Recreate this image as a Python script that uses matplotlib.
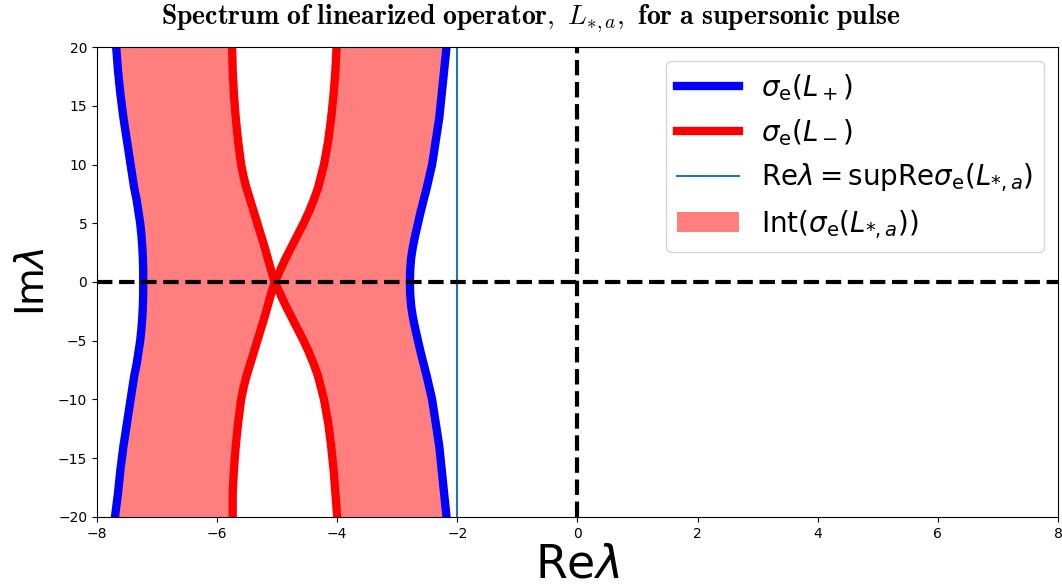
import matplotlib
matplotlib.use("Agg")
import matplotlib.pyplot as plt

plt.rcParams['mathtext.fontset'] = 'dejavusans'

# Imaginary-part grid (shared by all curves)
im_vals = [-20, -18, -16, -14, -12, -10, -9, -8, -7, -6, -5, -4, -3, -2, -1,
           0, 1, 2, 3, 4, 5, 6, 7, 8, 9, 10, 12, 14, 16, 18, 20]

# sigma_e(L_+): left and right branches (real parts)
plus_left = [-7.70, -7.65, -7.61, -7.56, -7.50, -7.44, -7.41, -7.38, -7.34, -7.31, -7.28, -7.26, -7.245, -7.235, -7.23,
             -7.23, -7.23, -7.235, -7.245, -7.26, -7.28, -7.31, -7.34, -7.38, -7.41, -7.44, -7.50, -7.56, -7.61, -7.65, -7.68]
plus_right = [-2.18, -2.22, -2.26, -2.30, -2.36, -2.42, -2.465, -2.51, -2.56, -2.61, -2.655, -2.70, -2.74, -2.77, -2.785,
              -2.79, -2.785, -2.77, -2.74, -2.70, -2.655, -2.61, -2.56, -2.51, -2.465, -2.42, -2.36, -2.30, -2.26, -2.22, -2.18]

# sigma_e(L_-): left and right branches (real parts)
minus_left = [-5.74, -5.74, -5.72, -5.69, -5.65, -5.60, -5.56, -5.51, -5.45, -5.39, -5.33, -5.27, -5.21, -5.155, -5.10,
              -5.04, -5.10, -5.155, -5.21, -5.27, -5.33, -5.39, -5.45, -5.51, -5.56, -5.60, -5.65, -5.69, -5.72, -5.74, -5.75]
minus_right = [-4.00, -4.03, -4.06, -4.10, -4.15, -4.22, -4.27, -4.32, -4.39, -4.47, -4.56, -4.66, -4.76, -4.86, -4.95,
               -5.04, -4.95, -4.86, -4.76, -4.66, -4.56, -4.47, -4.39, -4.32, -4.27, -4.22, -4.15, -4.10, -4.06, -4.03, -4.01]

sup_re = -2.01

fig = plt.figure(figsize=(10.62, 5.87), dpi=100)
ax = fig.add_axes([0.0913, 0.1193, 0.9049, 0.8006])

ax.fill_betweenx(im_vals, plus_left, minus_left, color='red', alpha=0.5, lw=0,
                 label=r'$\mathrm{Int}(\sigma_{\mathrm{e}}(L_{*,a}))$')
ax.fill_betweenx(im_vals, minus_right, plus_right, color='red', alpha=0.5, lw=0)

ax.plot(plus_left, im_vals, color='blue', lw=6, label=r'$\sigma_{\mathrm{e}}(L_+)$')
ax.plot(plus_right, im_vals, color='blue', lw=6)
ax.plot(minus_left, im_vals, color='red', lw=6, label=r'$\sigma_{\mathrm{e}}(L_-)$')
ax.plot(minus_right, im_vals, color='red', lw=6)
ax.axvline(sup_re, color='tab:blue', lw=1.5,
           label=r'$\mathrm{Re}\lambda = \mathrm{supRe}\sigma_{\mathrm{e}}(L_{*,a})$')

ax.axhline(0, color='black', ls='--', lw=3)
ax.axvline(0, color='black', ls='--', lw=3)

ax.set_xlim(-8, 8)
ax.set_ylim(-20, 20)
ax.tick_params(labelsize=10)

h, l = ax.get_legend_handles_labels()
order = [1, 2, 3, 0]
ax.legend([h[i] for i in order], [l[i] for i in order], loc='upper right', fontsize=20,
          handlelength=2.2)

ax.set_xlabel(r'$\mathrm{Re}\lambda$', fontsize=33, labelpad=1)
ax.set_ylabel(r'$\mathrm{Im}\lambda$', fontsize=28)

fig.text(0.5, 0.968,
         r'$\mathbf{Spectrum\ of\ linearized\ operator,}\ \mathit{L}_{*,a}\mathbf{,\ for\ a\ supersonic\ pulse}$',
         ha='center', va='center', fontsize=20, math_fontfamily='cm')

fig.savefig('out.png', dpi=100)
